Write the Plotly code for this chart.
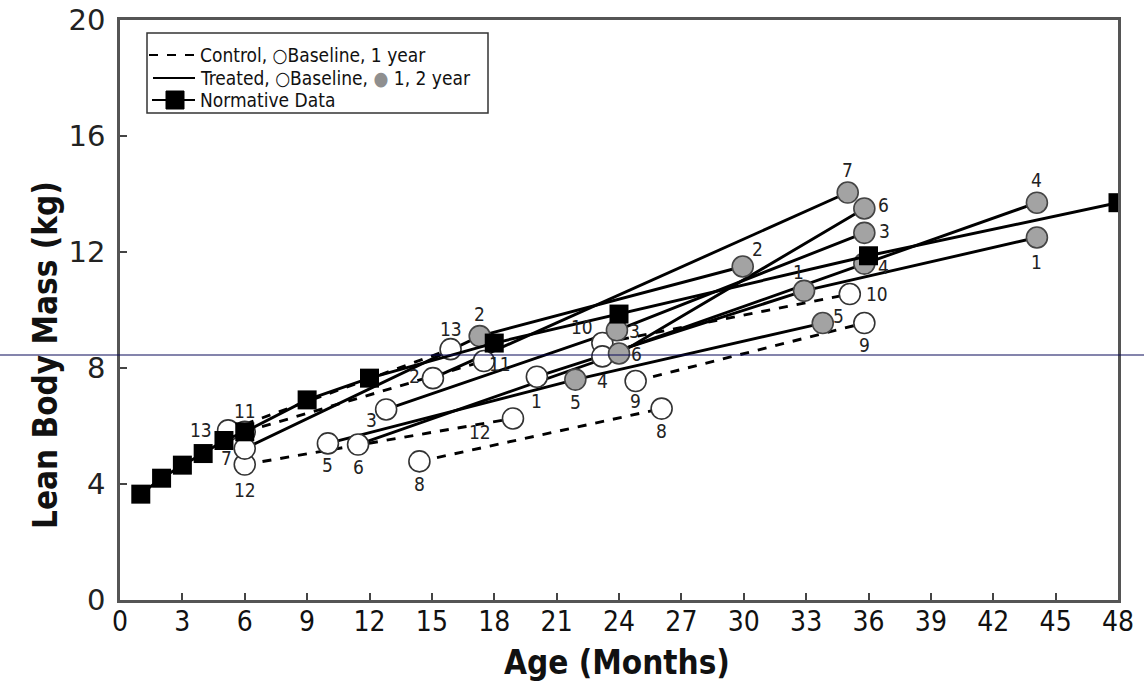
import plotly.graph_objects as go

# ---------------- data ----------------
norm_age = [1, 2, 3, 4, 5, 6, 9, 12, 18, 24, 36, 48]
norm_lbm = [3.65, 4.2, 4.65, 5.05, 5.5, 5.8, 6.9, 7.65, 8.86, 9.86, 11.87, 13.7]

# control subjects: baseline and 1 year (open circles, dashed)
ctrl_labels = ["12", "8", "9", "10", "11", "13"]
ctrl_base_age = [6.0, 14.4, 24.8, 23.2, 6.0, 5.2]
ctrl_base_lbm = [4.67, 4.78, 7.55, 8.86, 5.8, 5.85]
ctrl_yr1_age = [18.9, 26.05, 35.8, 35.1, 17.5, 15.9]
ctrl_yr1_lbm = [6.26, 6.6, 9.55, 10.55, 8.24, 8.65]

# treated subjects: baseline (open), 1 and 2 year (grey)
treat_base_label = ["1", "7", "3", "4", "5", "6", "2"]
treat_yr1_label = ["1", "2", "3", "4", "5", "6", None]
treat_yr2_label = ["1", "2", "3", "4", "5", "6", "7"]
treat_base_age = [20.05, 6.0, 12.8, 23.2, 10.0, 11.45, 15.05]
treat_base_lbm = [7.7, 5.22, 6.57, 8.4, 5.4, 5.36, 7.65]
treat_yr1_age = [32.9, 17.3, 23.9, 35.8, 21.9, 24.0, None]
treat_yr1_lbm = [10.66, 9.1, 9.3, 11.6, 7.6, 8.5, None]
treat_yr2_age = [44.1, 29.95, 35.8, 44.1, 33.8, 35.8, 35.0]
treat_yr2_lbm = [12.5, 11.5, 12.66, 13.7, 9.55, 13.5, 14.05]

x_ticks = list(range(0, 49, 3))
y_ticks = [0, 4, 8, 12, 16, 20]
x_title = "Age (Months)"
y_title = "Lean Body Mass (kg)"

# ---------------- label placement (pixel offsets, dx right / dy down) ----------------
ctrl_base_off = [(0, 25), (0, 23), (0, 20), (-20, -16), (0, -21), (-27, 0)]
ctrl_yr1_off = [(-33, 14), (0, 22), (0, 22), (27, 0), (16, 3), (0, -20)]
treat_base_off = [(0, 24), (-18, 9), (-15, 11), (0, 25), (0, 22), (0, 22), (-18, -2)]
treat_yr1_off = [(-6, -19), (0, -22), (18, 1), (19, 3), (0, 22), (17, 0), None]
treat_yr2_off = [(0, 24), (15, -18), (20, -2), (0, -23), (16, -7), (19, -4), (0, -23)]

COND = "Liberation Sans Narrow, DejaVu Sans Condensed, Arial Narrow, sans-serif"
LW = 2.9
CIRC = 21
GREY = "#a3a3a3"

fig = go.Figure()

# control dashed lines
for i in range(len(ctrl_labels)):
    fig.add_trace(go.Scatter(
        x=[ctrl_base_age[i], ctrl_yr1_age[i]], y=[ctrl_base_lbm[i], ctrl_yr1_lbm[i]],
        mode="lines", line=dict(color="black", width=LW, dash="dash"),
        showlegend=False, hoverinfo="skip"))

# treated solid lines
for i in range(len(treat_base_label)):
    xs = [treat_base_age[i], treat_yr1_age[i], treat_yr2_age[i]]
    ys = [treat_base_lbm[i], treat_yr1_lbm[i], treat_yr2_lbm[i]]
    pts = [(a, b) for a, b in zip(xs, ys) if a is not None]
    fig.add_trace(go.Scatter(
        x=[p[0] for p in pts], y=[p[1] for p in pts],
        mode="lines", line=dict(color="black", width=LW),
        showlegend=False, hoverinfo="skip"))

# open circles
open_x = ctrl_base_age + ctrl_yr1_age + treat_base_age
open_y = ctrl_base_lbm + ctrl_yr1_lbm + treat_base_lbm
fig.add_trace(go.Scatter(
    x=open_x, y=open_y, mode="markers",
    marker=dict(symbol="circle", size=CIRC, color="white", line=dict(color="#333", width=1.6)),
    showlegend=False, hoverinfo="skip"))

# grey circles
grey_x = [a for a in treat_yr1_age if a is not None] + treat_yr2_age
grey_y = [b for b in treat_yr1_lbm if b is not None] + treat_yr2_lbm
fig.add_trace(go.Scatter(
    x=grey_x, y=grey_y, mode="markers",
    marker=dict(symbol="circle", size=CIRC, color=GREY, line=dict(color="#444", width=1.6)),
    showlegend=False, hoverinfo="skip"))

# normative data
fig.add_trace(go.Scatter(
    x=norm_age, y=norm_lbm, mode="lines+markers",
    line=dict(color="black", width=LW),
    marker=dict(symbol="square", size=19, color="black"),
    showlegend=False, hoverinfo="skip"))

# point labels
annots = []
def lab(x, y, t, off):
    if t is None or x is None:
        return
    annots.append(dict(x=x, y=y, xref="x", yref="y", text=t, showarrow=False,
                       xshift=off[0], yshift=-off[1],
                       font=dict(family=COND, size=19, color="#222")))

for i, t in enumerate(ctrl_labels):
    lab(ctrl_base_age[i], ctrl_base_lbm[i], t, ctrl_base_off[i])
    lab(ctrl_yr1_age[i], ctrl_yr1_lbm[i], t, ctrl_yr1_off[i])
for i in range(len(treat_base_label)):
    lab(treat_base_age[i], treat_base_lbm[i], treat_base_label[i], treat_base_off[i])
    lab(treat_yr1_age[i], treat_yr1_lbm[i], treat_yr1_label[i], treat_yr1_off[i])
    lab(treat_yr2_age[i], treat_yr2_lbm[i], treat_yr2_label[i], treat_yr2_off[i])

# geometry (page pixels; body margin removed by the post script below)
PL, PT = 120, 20          # plot area top-left on the page
W, H = 998, 580           # plot area size
FIG_W, FIG_H = 1144, 690
L, T = PL, PT
R = FIG_W - L - W
B = FIG_H - T - H
def PX(p):
    return (p - PL) / W
def PY(p):
    return (PT + H - p) / H

shapes = []
# legend box
shapes.append(dict(type="rect", xref="paper", yref="paper",
                   x0=PX(147), x1=PX(488), y0=PY(113), y1=PY(33),
                   line=dict(color="#333", width=1.5), fillcolor="white", layer="above"))
shapes.append(dict(type="line", xref="paper", yref="paper", x0=PX(149), x1=PX(195),
                   y0=PY(55), y1=PY(55), line=dict(color="black", width=2, dash="dash"), layer="above"))
shapes.append(dict(type="line", xref="paper", yref="paper", x0=PX(153), x1=PX(195),
                   y0=PY(78), y1=PY(78), line=dict(color="black", width=2), layer="above"))
shapes.append(dict(type="line", xref="paper", yref="paper", x0=PX(152), x1=PX(195),
                   y0=PY(100), y1=PY(100), line=dict(color="black", width=2), layer="above"))
shapes.append(dict(type="rect", xref="paper", yref="paper", x0=PX(166), x1=PX(184),
                   y0=PY(109), y1=PY(91), line=dict(color="black", width=1),
                   fillcolor="black", layer="above"))
# thin horizontal rule across the image
shapes.append(dict(type="line", xref="paper", yref="paper", x0=PX(0), x1=PX(1144),
                   y0=PY(355), y1=PY(355), line=dict(color="#0a0a5a", width=1.2), layer="above"))

legend_rows = [
    "Control, ○Baseline, 1 year",
    "Treated, ○Baseline, <span style='color:#8f8f8f'>●</span> 1, 2 year",
    "Normative Data",
]
for txt, yy in zip(legend_rows, [55, 78, 100]):
    annots.append(dict(x=PX(198), y=PY(yy), xref="paper", yref="paper", text=txt,
                       xanchor="left", yanchor="middle", showarrow=False,
                       font=dict(family=COND, size=19, color="#111")))

# axis titles placed as in the reference
annots.append(dict(x=PX(45), y=PY(355), xref="paper", yref="paper",
                   text="<b>" + y_title + "</b>", textangle=-90, showarrow=False,
                   xanchor="center", yanchor="middle",
                   font=dict(family=COND, size=33, color="#111")))
annots.append(dict(x=PX(617), y=PY(662), xref="paper", yref="paper",
                   text="<b>" + x_title + "</b>", showarrow=False,
                   xanchor="center", yanchor="middle",
                   font=dict(family=COND, size=33, color="#111")))

fig.update_layout(
    width=FIG_W, height=FIG_H,
    margin=dict(l=L, r=R, t=T, b=B),
    paper_bgcolor="white", plot_bgcolor="white",
    shapes=shapes, annotations=annots,
    xaxis=dict(range=[0, 48], tickvals=x_ticks, ticktext=[str(v) for v in x_ticks],
               automargin=False, ticklabelstandoff=-5, ticklabeloverflow="allow",
               ticks="inside", ticklen=7, tickcolor="#444", tickwidth=1.5,
               showline=True, linecolor="#555", linewidth=2.5, mirror=True,
               showgrid=False, zeroline=False,
               tickfont=dict(family=COND, size=28, color="#111")),
    yaxis=dict(range=[0, 20], tickvals=y_ticks, ticktext=[str(v) for v in y_ticks],
               automargin=False, ticklabelstandoff=6, ticklabeloverflow="allow",
               ticks="inside", ticklen=7, tickcolor="#444", tickwidth=1.5,
               showline=True, linecolor="#555", linewidth=2.5, mirror=True,
               showgrid=False, zeroline=False,
               tickfont=dict(family="DejaVu Sans, Verdana, sans-serif", size=29, color="#222")),
)

fig.write_html("out.html",
               config={"displayModeBar": False},
               post_script="document.body.style.margin='0';document.body.style.overflow='hidden';")
